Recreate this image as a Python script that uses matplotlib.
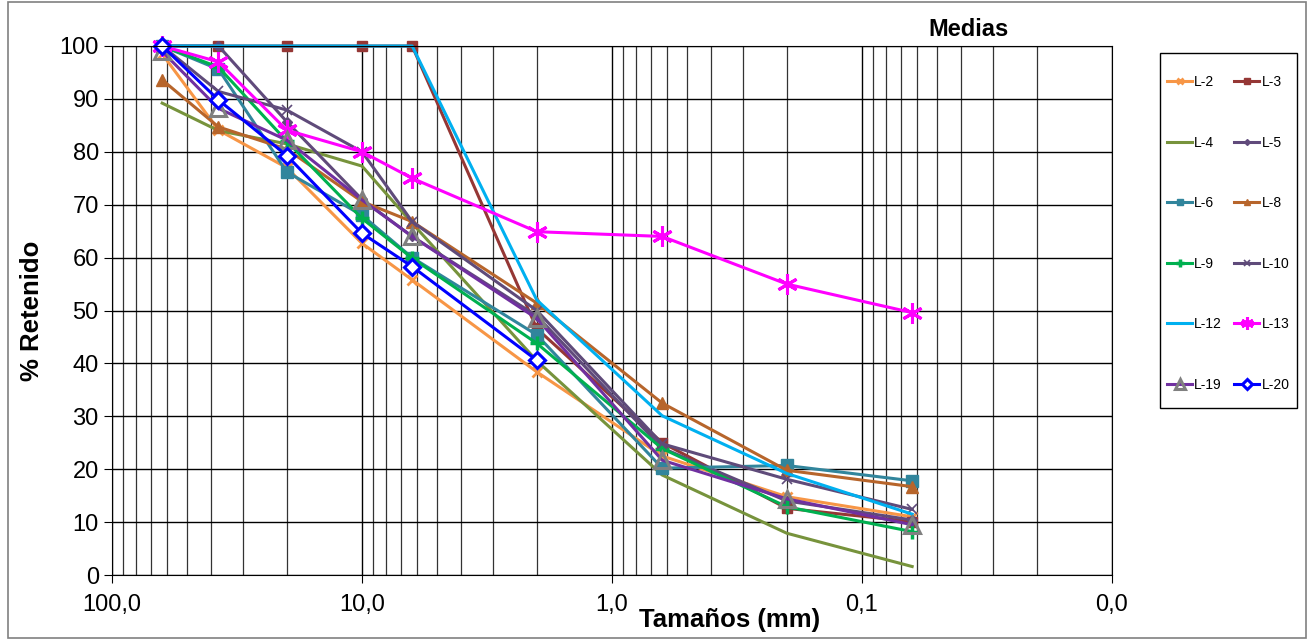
import matplotlib
matplotlib.use('Agg')
import matplotlib.pyplot as plt
from matplotlib.patches import Rectangle
from matplotlib.ticker import FixedLocator, FixedFormatter, LogLocator, NullFormatter

plt.rcParams['font.family'] = ['Liberation Sans', 'DejaVu Sans']

# sieve sizes (mm) and % retained per sample
sizes = [63, 37.5, 20, 10, 6.3, 2, 0.63, 0.2, 0.063]

l2 = [98.5, 84.1, 77.0, 62.7, 55.8, 38.4, 22.5, 14.8, 11.0]
l3 = [100, 100, 100, 100, 100, 46.6, 25.0, 12.6, 10.1]
l4 = [89.2, 84.0, 81.5, 77.3, 66.5, 40.5, 18.9, 7.9, 1.6]
l5 = [100, 100, 85.7, 71.0, 64.0, 49.0, 24.0, 14.0, 10.4]
l6 = [100, 95.6, 76.2, 68.0, 60.0, 45.4, 20.2, 20.7, 17.8]
l8 = [93.6, 84.7, 80.5, 70.6, 66.8, 51.4, 32.5, 19.8, 16.7]
l9 = [100, 96.0, 82.0, 67.4, 59.9, 43.8, 23.9, 12.9, 8.2]
l10 = [100, 91.4, 87.9, 80.0, 66.8, 50.0, 24.8, 18.1, 12.4]
l12 = [100, 100, 100, 100, 100, 52.0, 30.1, 19.2, 11.5]
l13 = [100, 97.0, 84.1, 80.0, 75.0, 64.9, 64.0, 55.0, 49.6]
l19 = [99.0, 88.2, 82.2, 70.9, 64.0, 48.5, 21.7, 14.4, 9.5]
l20 = [100, 89.8, 79.3, 64.6, 58.3, 40.6]

x_ticks = [100, 10, 1, 0.1, 0.01]
x_tick_labels = ['100,0', '10,0', '1,0', '0,1', '0,0']
y_ticks = [0, 10, 20, 30, 40, 50, 60, 70, 80, 90, 100]

fig = plt.figure(figsize=(13.08, 6.39), dpi=100)
ax = fig.add_axes([112 / 1308, 1 - 575 / 639, 1000 / 1308, 529 / 639])

# label, values, line colour, marker style
series = [
    ('L-2', l2, '#F79646', dict(marker='x', ms=7, mew=2)),
    ('L-3', l3, '#953735', dict(marker='s', ms=7)),
    ('L-4', l4, '#77933C', dict(marker=None)),
    ('L-5', l5, '#604A7B', dict(marker='D', ms=5)),
    ('L-6', l6, '#31859C', dict(marker='s', ms=8)),
    ('L-8', l8, '#B7652B', dict(marker='^', ms=8)),
    ('L-9', l9, '#00B050', dict(marker='+', ms=10, mew=2.5)),
    ('L-10', l10, '#5F4B7A', dict(marker='x', ms=7, mew=1.2)),
    ('L-12', l12, '#00B0F0', dict(marker=None)),
    ('L-13', l13, '#FF00FF', dict(marker=(6, 2, 0), ms=15, mew=2.2)),
    ('L-19', l19, '#7030A0', dict(marker='^', ms=12, mew=2.2, mfc='none', mec='#808080')),
    ('L-20', l20, '#0000FF', dict(marker='D', ms=8.5, mew=2.2, mfc='white', mec='#0000FF')),
]

handles = {}
for name, vals, col, mk in series:
    h, = ax.plot(sizes[:len(vals)], vals, color=col, lw=2.2, label=name,
                 clip_on=False, **mk)
    handles[name] = h

ax.set_xscale('log')
ax.set_xlim(100, 0.01)
ax.set_ylim(0, 100)

ax.xaxis.set_major_locator(FixedLocator(x_ticks))
ax.xaxis.set_major_formatter(FixedFormatter(x_tick_labels))
ax.xaxis.set_minor_locator(LogLocator(base=10, subs=range(2, 10)))
ax.xaxis.set_minor_formatter(NullFormatter())
ax.set_yticks(y_ticks)

ax.grid(True, which='major', color='black', lw=1.0, zorder=0)
ax.grid(True, which='minor', axis='x', color='#333333', lw=0.9, zorder=0)
ax.set_axisbelow(True)
ax.tick_params(axis='both', which='major', labelsize=17, length=6, color='black')
ax.tick_params(axis='x', which='minor', length=0)
ax.tick_params(axis='x', pad=8)
for s in ax.spines.values():
    s.set_color('black')

ax.set_xlabel('Tamaños (mm)', fontsize=18.5, fontweight='bold')
ax.xaxis.set_label_coords(0.618, -0.062)
ax.set_ylabel('% Retenido', fontsize=18.5, fontweight='bold')
ax.yaxis.set_label_coords(-0.068, 0.5)

fig.text(968 / 1308, 1 - 30 / 639, 'Medias', fontsize=17, fontweight='bold',
         ha='center', va='center')

# legend row-wise like the original: reorder for column filling
order = ['L-2', 'L-4', 'L-6', 'L-9', 'L-12', 'L-19',
         'L-3', 'L-5', 'L-8', 'L-10', 'L-13', 'L-20']
leg = fig.legend([handles[n] for n in order], order, ncol=2,
                 loc='upper left', bbox_to_anchor=(1167 / 1308, 1 - 75 / 639),
                 fontsize=10, frameon=False, borderaxespad=0,
                 borderpad=0, handlelength=1.8, handletextpad=0.15,
                 columnspacing=0.9, handleheight=0.7, labelspacing=3.35,
                 markerscale=0.6)

# legend box drawn separately so the padding can differ per side
fig.patches.append(Rectangle((1160 / 1308, 1 - 408 / 639), 137 / 1308, 355 / 639,
                             transform=fig.transFigure, fill=False,
                             edgecolor='black', lw=1.0))

fig.patches.append(Rectangle((8 / 1308, 1 / 639), 1298 / 1308, 636 / 639,
                             transform=fig.transFigure, fill=False,
                             edgecolor='#808080', lw=1.2))

fig.savefig('out.png', dpi=100)
